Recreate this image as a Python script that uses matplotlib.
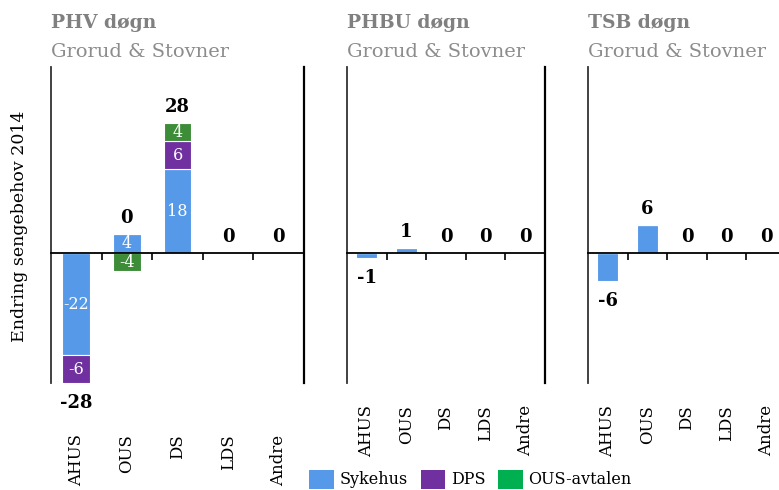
import matplotlib
matplotlib.use("Agg")
import matplotlib.pyplot as plt
from matplotlib.patches import Patch

plt.rcParams['font.family'] = ['DejaVu Serif']

categories = ['AHUS', 'OUS', 'DS', 'LDS', 'Andre']
series_names = ['Sykehus', 'DPS', 'OUS-avtalen']

phv_sykehus = [-22, 4, 18, 0, 0]
phv_dps = [-6, 0, 6, 0, 0]
phv_ous = [0, -4, 4, 0, 0]

phbu_sykehus = [-1, 1, 0, 0, 0]
phbu_dps = [0, 0, 0, 0, 0]
phbu_ous = [0, 0, 0, 0, 0]

tsb_sykehus = [-6, 6, 0, 0, 0]
tsb_dps = [0, 0, 0, 0, 0]
tsb_ous = [0, 0, 0, 0, 0]

titles = ['PHV døgn', 'PHBU døgn', 'TSB døgn']
subtitle = 'Grorud & Stovner'
ylabel = 'Endring sengebehov 2014'

bar_colors = ['#5599E8', '#7030A0', '#3C8C38']
legend_colors = ['#5599E8', '#7030A0', '#00B050']
GRAY = '#8C8C8C'

W, H = 779, 490
fig = plt.figure(figsize=(W / 100, H / 100), dpi=100)

panels = [
    dict(data=[phv_sykehus, phv_dps, phv_ous], left=51, width=253, bw=0.55, seglabels=True, labpad=37),
    dict(data=[phbu_sykehus, phbu_dps, phbu_ous], left=347, width=198, bw=0.53, seglabels=False, labpad=16),
    dict(data=[tsb_sykehus, tsb_dps, tsb_ous], left=588, width=198, bw=0.53, seglabels=False, labpad=16),
]

ax_top, ax_bot = 67, 383
for p, title in zip(panels, titles):
    ax = fig.add_axes([p['left'] / W, 1 - ax_bot / H, p['width'] / W, (ax_bot - ax_top) / H])
    ax.set_xlim(-0.5, len(categories) - 0.5)
    ax.set_ylim(-28, 40)
    x = list(range(len(categories)))
    pos_b = [0.0] * len(categories)
    neg_b = [0.0] * len(categories)
    for vals, col in zip(p['data'], bar_colors):
        bottoms = []
        for i, v in enumerate(vals):
            if v >= 0:
                bottoms.append(pos_b[i]); pos_b[i] += v
            else:
                bottoms.append(neg_b[i]); neg_b[i] += v
        ax.bar(x, vals, bottom=bottoms, width=p['bw'], color=col,
               edgecolor='white', linewidth=0.8, zorder=2)
        if p['seglabels']:
            for i, (v, b) in enumerate(zip(vals, bottoms)):
                if v != 0:
                    ax.text(i, b + v / 2, f'{v}', ha='center', va='center',
                            color='white', fontsize=11.5, zorder=3)
    totals = [sum(s[i] for s in p['data']) for i in x]
    for i, t in enumerate(totals):
        if t >= 0:
            ax.annotate(f'{t}', xy=(i, pos_b[i]), xytext=(0, 11.5), textcoords='offset points',
                        ha='center', va='center', fontsize=13, fontweight='bold')
        else:
            ax.annotate(f'{t}', xy=(i, neg_b[i]), xytext=(0, -14.5), textcoords='offset points',
                        ha='center', va='center', fontsize=13, fontweight='bold')
    ax.spines['top'].set_visible(False)
    ax.spines['bottom'].set_position(('data', 0))
    ax.spines['bottom'].set_linewidth(1.3)
    ax.spines['left'].set_linewidth(1.3)
    ax.spines['left'].set_color('#333333')
    ax.spines['right'].set_linewidth(1.6)
    ax.set_yticks([])
    ax.set_xticks([i + 0.5 for i in x])
    ax.set_xticklabels([])
    ax.tick_params(axis='x', direction='out', length=5, width=1.2)
    for i, c in enumerate(categories):
        ax.annotate(c, xy=(i, 0), xycoords=('data', 'axes fraction'),
                    xytext=(0, -p['labpad']), textcoords='offset points',
                    rotation=90, ha='center', va='top', fontsize=12)
    fig.text(p['left'] / W, 1 - 23 / H, title, fontsize=13.5, fontweight='bold',
             color='#808080', ha='left', va='center')
    fig.text(p['left'] / W, 1 - 52 / H, subtitle, fontsize=14,
             color=GRAY, ha='left', va='center')

fig.text(20 / W, 1 - 226 / H, ylabel, rotation=90, ha='center', va='center', fontsize=12.5)

handles = [Patch(facecolor=c, edgecolor='none') for c in legend_colors]
fig.legend(handles, series_names, loc='lower left', bbox_to_anchor=(298 / W, -0.02),
           ncol=3, frameon=False, fontsize=11.5, handlelength=1.55, handleheight=1.45,
           handletextpad=0.35, columnspacing=0.8, borderpad=0.2)

fig.savefig('out.png', dpi=100)
